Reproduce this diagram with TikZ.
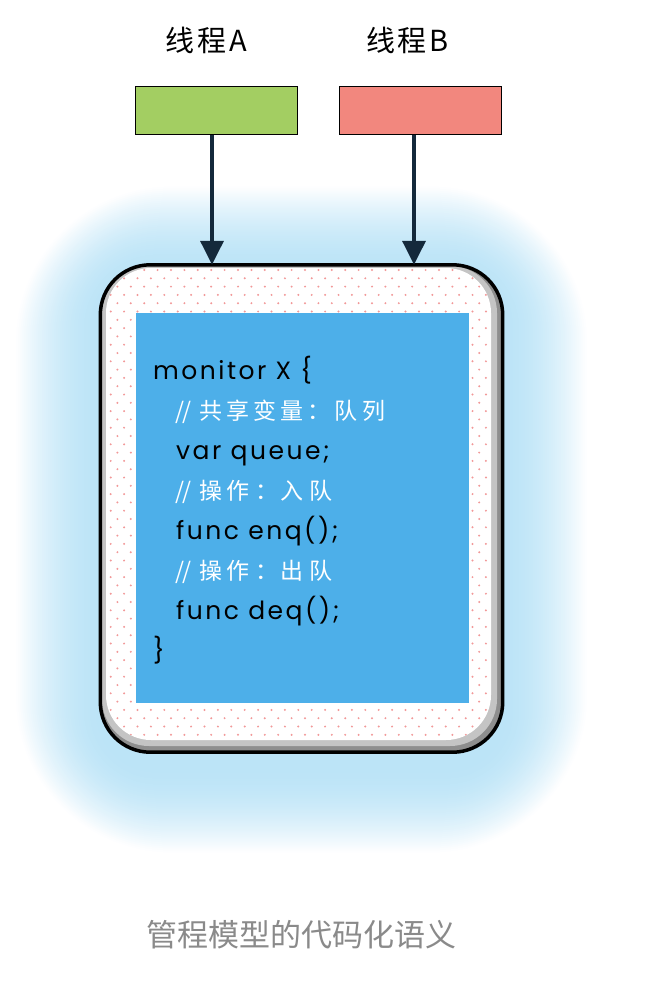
\documentclass[tikz,border=0pt]{standalone}
\usepackage{fontspec}
\usetikzlibrary{arrows.meta,calc}
\newfontfamily\cjkfont{Noto Sans CJK SC}
\newfontfamily\lblfont[LetterSpace=10]{Noto Sans CJK SC}
\newfontfamily\codefont[LetterSpace=10]{Poppins}
\newfontfamily\cmtfont[LetterSpace=18]{Noto Sans CJK SC}
\definecolor{greenA}{HTML}{A3CE62}
\definecolor{redB}{HTML}{F2877E}
\definecolor{arrowc}{HTML}{14293B}
\definecolor{glowc}{HTML}{BCE4F7}
\definecolor{codebg}{HTML}{4DAFE9}
\definecolor{dotc}{HTML}{F29898}
\definecolor{bevel}{HTML}{8E8E8E}
\definecolor{bevellight}{HTML}{C4C4C4}
\definecolor{capc}{HTML}{8A8A8A}
\tikzset{
  thread/.style={draw=black, line width=1.6pt, minimum width=162pt, minimum height=48pt, inner sep=0pt},
  lbl/.style={font=\lblfont\fontsize{29}{29}\selectfont, text=black, inner sep=0pt},
  codeline/.style={font=\codefont\fontsize{25}{25}\selectfont, text=black, anchor=base west, inner sep=0pt},
  cmtline/.style={font=\cmtfont\fontsize{23}{23}\selectfont, text=white, anchor=base west, inner sep=0pt},
  conn/.style={draw=arrowc, line width=3.5pt, -{Triangle[width=23pt,length=24pt]}},
}
\begin{document}
\begin{tikzpicture}[x=1pt,y=-1pt]
\useasboundingbox (0,0) rectangle (646,990);
\fill[white] (0,0) rectangle (646,990);
% monitor outline node (invisible first, for anchors)
\node[minimum width=402pt, minimum height=487pt, inner sep=0pt] (monitor) at (301.5,508.5) {};
% glow (opaque layers, outside in)
\foreach \r in {84,82,...,0} {
  \pgfmathsetmacro\p{100*(1-(\r/85)^1.8)}
  \fill[glowc!\p!white, rounded corners={55pt+1.2*\r pt}]
    ($(monitor.north west)+(-\r,-\r+6)$) rectangle ($(monitor.south east)+(\r,\r+16)$);
}
% outer box with bevel
\fill[bevel, rounded corners=50pt] (monitor.north west) rectangle (monitor.south east);
\fill[bevellight, rounded corners=47pt] (102,266) rectangle (497,746);
\fill[white, rounded corners=45pt] (106,268) rectangle (491,740);
\begin{scope}
  \clip[rounded corners=45pt] (106,268) rectangle (491,740);
  \foreach \j in {0,...,58} {
    \pgfmathsetmacro\yy{270+\j*8.3}
    \pgfmathsetmacro\off{mod(\j,2)*6.7}
    \foreach \i in {0,...,29} {
      \fill[dotc] (104+\off+\i*13.4,\yy) circle (1.1);
    }
  }
\end{scope}
\draw[black, line width=3.5pt, rounded corners=50pt] (monitor.north west) rectangle (monitor.south east);
% code area
\node[fill=codebg, minimum width=333pt, minimum height=390pt, inner sep=0pt] (code) at (302.5,508) {};
\node[codeline] (l1) at (153,379) {monitor X \{};
\node[cmtline]  (l2) at (175,419) {/\kern-2pt/\hspace{8pt}共享变量：队列};
\node[codeline] (l3) at (176,459) {var queue;};
\node[cmtline]  (l4) at (175,499) {/\kern-2pt/\hspace{8pt}操作\hspace{6pt}：\hspace{2pt}入\hspace{6pt}队};
\node[codeline] (l5) at (176,539) {func enq();};
\node[cmtline]  (l6) at (175,579) {/\kern-2pt/\hspace{8pt}操作\hspace{6pt}：\hspace{2pt}出\hspace{6pt}队};
\node[codeline] (l7) at (176,619) {func deq();};
\node[codeline] (l8) at (153,659) {\}};
% threads
\node[thread, fill=greenA] (A) at (216.5,110.5) {};
\node[thread, fill=redB] (B) at (420.5,110.5) {};
\node[lbl] (la) at (206.5,40) {线程A};
\node[lbl] (lb) at (407.5,40) {线程B};
\draw[conn] ([xshift=-4.5pt]A.south) -- ([xshift=-4.5pt]A.south |- monitor.north);
\draw[conn] ([xshift=-6.5pt]B.south) -- ([xshift=-6.5pt]B.south |- monitor.north);
% caption
\node[font=\cjkfont\fontsize{31}{31}\selectfont, text=capc, inner sep=0pt] (cap) at (301.5,935) {管程模型的代码化语义};
\end{tikzpicture}
\end{document}
